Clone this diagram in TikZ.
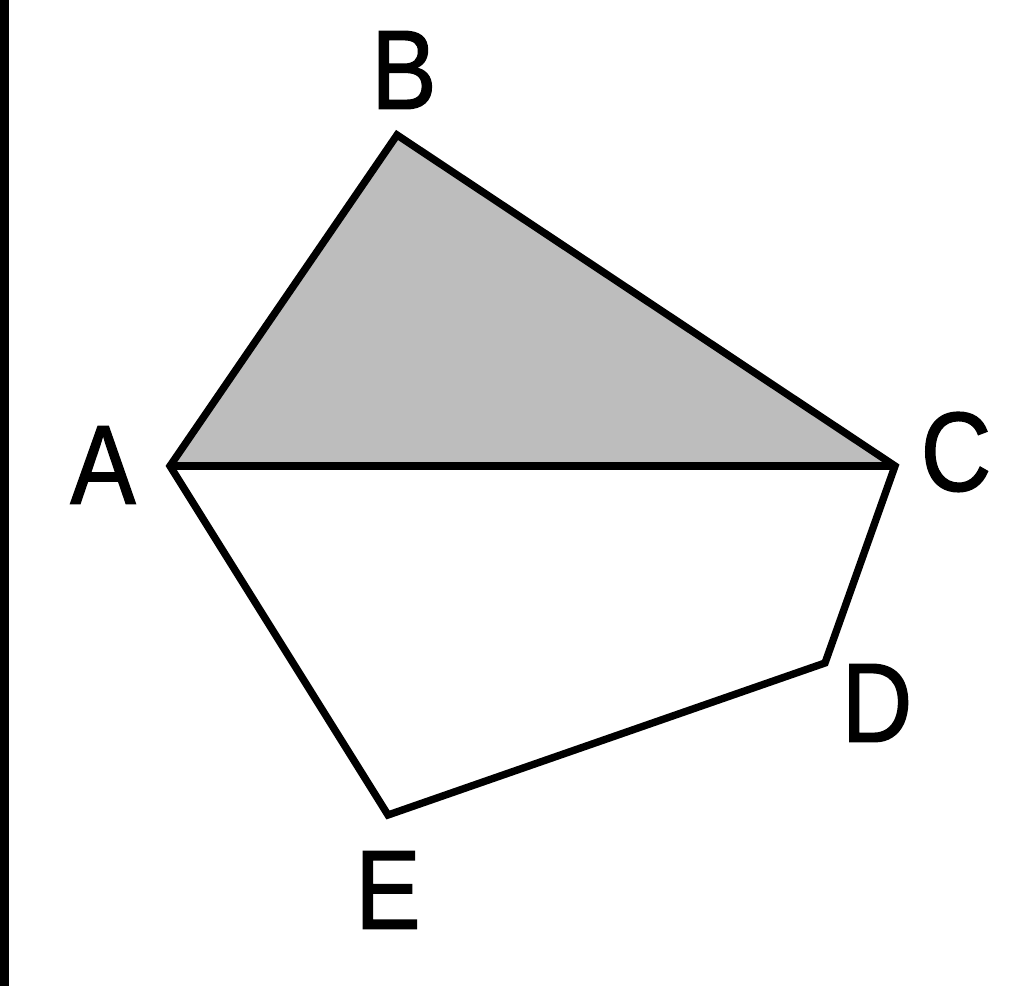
\documentclass[tikz,border=0pt]{standalone}
\usepackage{fontspec}
\newfontfamily\vfont[FakeBold=1.3]{Liberation Sans}
\usepackage{tikz}
\usetikzlibrary{positioning}

\begin{document}
\begin{tikzpicture}[x=0.01cm,y=-0.01cm,line width=2.1pt,line join=miter,
    vlabel/.style={inner sep=0pt,xscale=0.87,transform shape,
      font=\vfont\fontsize{32}{32}\selectfont}]
    \useasboundingbox (0,0) rectangle (1024,986);
    \fill[black] (0,0) rectangle (9,986);
    \coordinate (A) at (170,466);
    \coordinate (B) at (397,135);
    \coordinate (C) at (895,466);
    \coordinate (D) at (825,663);
    \coordinate (E) at (388,815);
    \fill[black!26] (A) -- (B) -- (C) -- cycle;
    \draw (A) -- (B) -- (C) -- (D) -- (E) -- cycle;
    \draw (A) -- (C);
    \node[vlabel] (lA) at (103,465) {A};
    \node[vlabel] (lB) at (404,70) {B};
    \node[vlabel] (lC) at (956,452) {C};
    \node[vlabel] (lD) at (877,703) {D};
    \node[vlabel] (lE) at (388,890) {E};
\end{tikzpicture}
\end{document}
